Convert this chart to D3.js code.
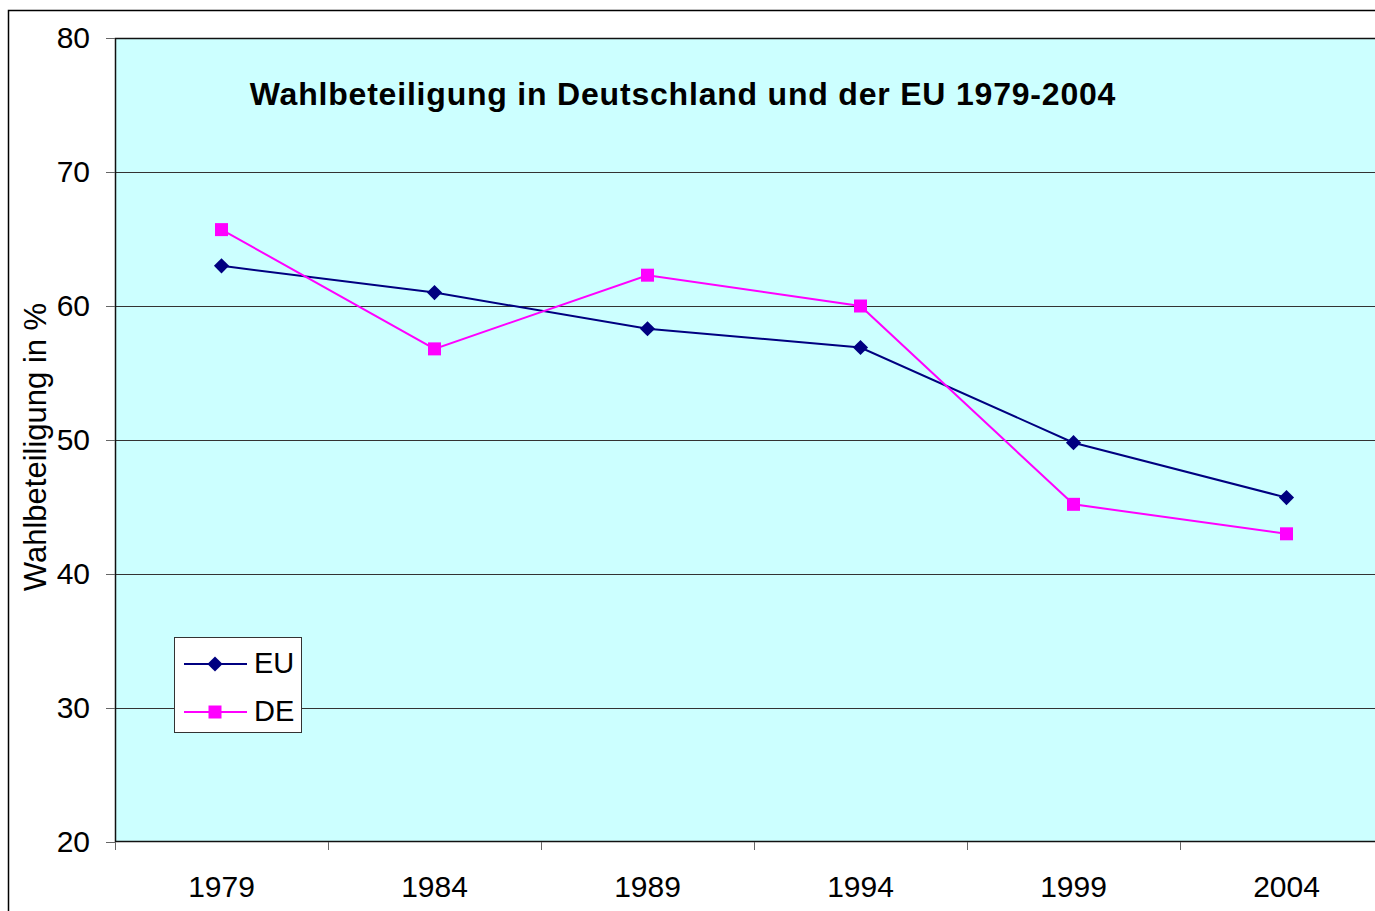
<!DOCTYPE html>
<meta charset="utf-8">
<style>
  body { margin: 0; background: #fff; }
  svg { display: block; font-family: "Liberation Sans", Arial, sans-serif; }
</style>
<script src="https://cdn.jsdelivr.net/npm/d3@7"></script>
<div id="chart"></div>
<script>
// data
var years = ["1979", "1984", "1989", "1994", "1999", "2004"];
var euValues = [63.0, 61.0, 58.3, 56.9, 49.8, 45.7];
var deValues = [65.7, 56.8, 62.3, 60.0, 45.2, 43.0];
var yTicks = [20, 30, 40, 50, 60, 70, 80];
var seriesNames = ["EU", "DE"];

var W = 1375, H = 911;
var margin = {top: 38, left: 115, bottom: 69};
var plotW = 213 * years.length;   // plot runs past the right edge of the picture
var plotH = H - margin.top - margin.bottom;

var svg = d3.select("#chart").append("svg")
    .attr("width", W).attr("height", H);

// outer chart frame (cut off on the right and bottom)
svg.append("rect")
    .attr("x", 8.5).attr("y", 10.5)
    .attr("width", W + 20).attr("height", H + 20)
    .attr("fill", "#fff").attr("stroke", "#000").attr("stroke-width", 1.5);

var g = svg.append("g").attr("transform", "translate(" + margin.left + "," + margin.top + ")");

var x = d3.scaleBand().domain(years).range([0, plotW]);
var y = d3.scaleLinear().domain([20, 80]).range([plotH, 0]);

// plot background
g.append("rect")
    .attr("width", plotW).attr("height", plotH)
    .attr("fill", "#ccffff");

// gridlines
g.append("g").selectAll("line")
  .data(yTicks.slice(1, -1))
  .enter().append("line")
    .attr("x1", 0).attr("x2", plotW)
    .attr("y1", function(d) { return Math.round(y(d)) + 0.5; })
    .attr("y2", function(d) { return Math.round(y(d)) + 0.5; })
    .attr("stroke", "#333").attr("stroke-width", 1);

// plot border: top, left, bottom
g.append("path")
    .attr("d", "M" + plotW + ",0.5H0.5V" + (plotH - 0.5) + "H" + plotW)
    .attr("fill", "none").attr("stroke", "#111").attr("stroke-width", 1.5);

// y axis
var yAxis = g.append("g")
    .call(d3.axisLeft(y).tickValues(yTicks).tickSize(9).tickPadding(16));
yAxis.select(".domain").remove();
yAxis.selectAll(".tick line").attr("stroke", "#666");
yAxis.selectAll("text").attr("font-size", 30).attr("fill", "#000")
    .attr("font-family", "Liberation Sans, Arial, sans-serif");

// x axis: ticks at band edges
var xTickPos = years.map(function(d) { return x(d); }).concat([plotW]);
g.append("g").selectAll("line")
  .data(xTickPos)
  .enter().append("line")
    .attr("x1", function(d) { return d + 0.5; }).attr("x2", function(d) { return d + 0.5; })
    .attr("y1", plotH).attr("y2", plotH + 8)
    .attr("stroke", "#666");
g.append("g").selectAll("text")
  .data(years)
  .enter().append("text")
    .attr("x", function(d) { return x(d) + x.bandwidth() / 2; })
    .attr("y", plotH + 55)
    .attr("text-anchor", "middle")
    .attr("font-size", 30)
    .text(function(d) { return d; });

// y axis label
svg.append("text")
    .attr("transform", "translate(46,447) rotate(-90)")
    .attr("text-anchor", "middle")
    .attr("font-size", 31)
    .text("Wahlbeteiligung in %");

// title
g.append("text")
    .attr("x", 683 - margin.left)
    .attr("y", 67)
    .attr("text-anchor", "middle")
    .attr("font-size", 32)
    .attr("font-weight", "bold")
    .attr("letter-spacing", 0.8)
    .text("Wahlbeteiligung in Deutschland und der EU 1979-2004");

// lines
var line = d3.line()
    .x(function(d, i) { return x(years[i]) + x.bandwidth() / 2; })
    .y(function(d) { return y(d); });

var series = [
  {name: seriesNames[0], values: euValues, color: "#000080", rotate: 45, size: 115},
  {name: seriesNames[1], values: deValues, color: "#ff00ff", rotate: 0, size: 169}
];

var marker = d3.symbol().type(d3.symbolSquare);

series.forEach(function(s) {
  g.append("path")
      .datum(s.values)
      .attr("d", line)
      .attr("fill", "none")
      .attr("stroke", s.color)
      .attr("stroke-width", 2);
  g.append("g").selectAll("path")
    .data(s.values)
    .enter().append("path")
      .attr("transform", function(d, i) {
        return "translate(" + (x(years[i]) + x.bandwidth() / 2) + "," + y(d) + ") rotate(" + s.rotate + ")";
      })
      .attr("d", marker.size(s.size)())
      .attr("fill", s.color);
});

// legend
var legend = svg.append("g").attr("transform", "translate(174,637)");
legend.append("rect")
    .attr("x", 0.5).attr("y", 0.5)
    .attr("width", 127).attr("height", 95)
    .attr("fill", "#fff").attr("stroke", "#333").attr("stroke-width", 1);
series.forEach(function(s, i) {
  var ly = 27 + i * 48;
  legend.append("line")
      .attr("x1", 10).attr("x2", 73)
      .attr("y1", ly).attr("y2", ly)
      .attr("stroke", s.color).attr("stroke-width", 2);
  legend.append("path")
      .attr("transform", "translate(41," + ly + ") rotate(" + s.rotate + ")")
      .attr("d", marker.size(s.size)())
      .attr("fill", s.color);
  legend.append("text")
      .attr("x", 80).attr("y", ly + 9)
      .attr("font-size", 29)
      .text(s.name);
});
</script>
